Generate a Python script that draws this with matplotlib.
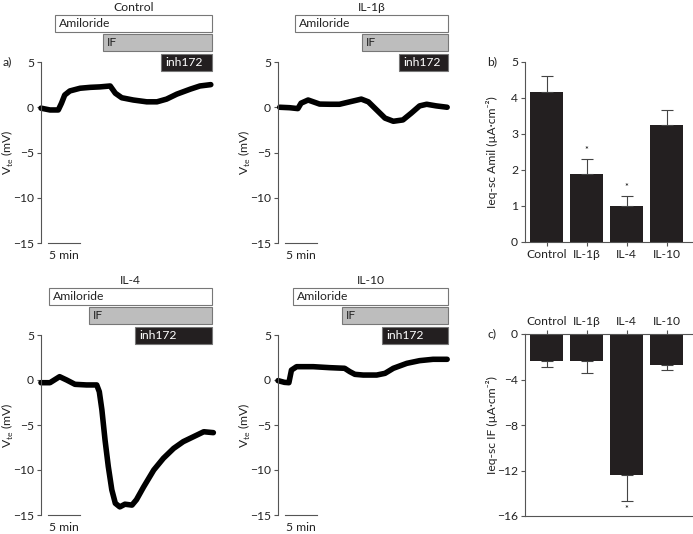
import matplotlib
matplotlib.use('Agg')
import matplotlib.pyplot as plt
from matplotlib.patches import Rectangle

plt.rcParams['font.family'] = ['Lato', 'DejaVu Sans']
plt.rcParams['font.size'] = 8.7
plt.rcParams['axes.edgecolor'] = '#555555'
plt.rcParams['axes.linewidth'] = 0.8
plt.rcParams['xtick.color'] = '#555555'
plt.rcParams['ytick.color'] = '#555555'
plt.rcParams['xtick.labelcolor'] = '#222222'
plt.rcParams['ytick.labelcolor'] = '#222222'
plt.rcParams['xtick.major.size'] = 3
plt.rcParams['ytick.major.size'] = 3
plt.rcParams['xtick.major.pad'] = 2
plt.rcParams['ytick.major.pad'] = 2

# Vte traces (time in min, voltage in mV)
ctrl_t = [0, 1.4, 2.7, 3.2, 3.7, 4.5, 6.1, 7.7, 9.2, 10.8, 11.6, 12.6, 14.4, 16.5,
          18.1, 19.6, 21.2, 23.3, 24.8, 26.5]
ctrl_v = [-0.1, -0.3, -0.3, 0.45, 1.35, 1.8, 2.1, 2.2, 2.25, 2.35, 1.55, 1.05, 0.8, 0.6,
          0.6, 0.9, 1.45, 2.0, 2.35, 2.5]

il1b_t = [0.26, 1.8, 3.1, 3.6, 4.7, 5.5, 6.5, 8.1, 9.6, 11.2, 13.0, 14.1, 15.4, 16.7,
          18.0, 19.5, 20.8, 22.1, 23.2, 24.7, 26.4]
il1b_v = [0, -0.05, -0.15, 0.45, 0.8, 0.6, 0.35, 0.33, 0.33, 0.6, 0.9, 0.6, -0.3, -1.2,
          -1.55, -1.4, -0.65, 0.15, 0.33, 0.15, 0]

il4_t = [0, 1.4, 2.9, 4.0, 5.3, 7.1, 8.7, 9.1, 9.5, 10.0, 10.5, 11.05, 11.6, 12.3, 13.1,
         14.2, 14.9, 16.0, 17.6, 19.1, 20.7, 22.2, 23.8, 25.4, 26.9]
il4_v = [-0.3, -0.3, 0.37, 0, -0.48, -0.55, -0.55, -1.3, -3.3, -6.7, -9.6, -12.2, -13.7,
         -14.1, -13.8, -13.9, -13.3, -11.9, -10.0, -8.7, -7.6, -6.85, -6.3, -5.75, -5.85]

il10_t = [0, 1.0, 1.7, 2.1, 2.9, 5.5, 8.1, 10.4, 11.2, 12.0, 13.3, 15.4, 16.7, 18.0,
          20.1, 22.1, 24.2, 26.4]
il10_v = [-0.07, -0.26, -0.3, 1.1, 1.48, 1.48, 1.37, 1.3, 0.93, 0.63, 0.55, 0.55, 0.74,
          1.3, 1.85, 2.15, 2.3, 2.3]

# drug addition times (min) and end of recording
drug_names = ['Amiloride', 'IF', 'inh172']
ctrl_on = [2.2, 9.7, 18.75]
il1b_on = [2.66, 13.1, 18.9]
il4_on = [1.25, 7.5, 14.7]
il10_on = [2.3, 10.0, 16.25]
ctrl_end, il1b_end, il4_end, il10_end = 26.7, 26.6, 26.7, 26.6

# summary bars
groups = ['Control', 'IL-1β', 'IL-4', 'IL-10']
amil_mean = [4.16, 1.88, 0.99, 3.26]
amil_sem = [0.44, 0.43, 0.30, 0.40]
amil_sig = [False, True, True, False]
if_mean = [-2.41, -2.41, -12.41, -2.76]
if_sem = [0.53, 1.03, 2.24, 0.44]
if_sig = [False, False, True, False]

W, H = 693, 534
fig = plt.figure(figsize=(W / 100, H / 100), dpi=100)


def rect(left, top, right, bottom):
    return [left / W, 1 - bottom / H, (right - left) / W, (bottom - top) / H]


box_y = [(8.3, 10.2), (6.2, 8.1), (4.0, 5.9)]
box_face = ['white', '#bdbdbd', '#231f20']
box_text = ['#222222', '#222222', 'white']


def trace_panel(r, title, t, v, on, end):
    ax = fig.add_axes(r)
    ax.plot(t, v, color='black', lw=4, solid_joinstyle='round',
            solid_capstyle='round', clip_on=False)
    ax.set_xlim(0, 27)
    ax.set_ylim(-15, 5)
    ax.set_yticks([5, 0, -5, -10, -15])
    ax.set_xticks([])
    for s in ['top', 'right', 'bottom']:
        ax.spines[s].set_visible(False)
    ax.set_ylabel('V$_{\\mathregular{te}}$ (mV)', color='#222222')
    ax.yaxis.set_label_coords(-0.145, 0.5)
    for i, name in enumerate(drug_names):
        y0, y1 = box_y[i]
        ax.add_patch(Rectangle((on[i], y0), end - on[i], y1 - y0, facecolor=box_face[i],
                               edgecolor='#777777', lw=0.8, clip_on=False))
        ax.text(on[i] + 0.6, (y0 + y1) / 2, name, color=box_text[i], va='center',
                ha='left', clip_on=False)
    ax.text((on[0] + end) / 2, 11.0, title, ha='center', va='center', color='#222222')
    # 5 min scale bar
    ax.plot([1.1, 6.1], [-15, -15], color='#555555', lw=0.8, clip_on=False)
    ax.text(3.6, -16.4, '5 min', ha='center', va='center', color='#222222')
    return ax


trace_panel(rect(41, 62, 214, 243), 'Control', ctrl_t, ctrl_v, ctrl_on, ctrl_end)
trace_panel(rect(278, 62, 451, 243), 'IL-1β', il1b_t, il1b_v, il1b_on, il1b_end)
trace_panel(rect(41, 335, 214, 515), 'IL-4', il4_t, il4_v, il4_on, il4_end)
trace_panel(rect(278, 335, 451, 515), 'IL-10', il10_t, il10_v, il10_on, il10_end)

x = range(len(groups))
bar_c = '#231f20'

# b) amiloride-sensitive current
axb = fig.add_axes(rect(525, 62, 693, 242))
axb.bar(x, amil_mean, width=0.82, color=bar_c,
        yerr=[[0] * 4, amil_sem], capsize=4.5,
        error_kw=dict(ecolor='#444444', elinewidth=0.8, capthick=0.8))
for i in x:
    if amil_sig[i]:
        axb.text(i, amil_mean[i] + amil_sem[i] + 0.22, '*', ha='center', va='center',
                 fontsize=6.5)
axb.set_xlim(-0.54, 3.66)
axb.set_ylim(0, 5)
axb.set_yticks(range(6))
axb.set_xticks(list(x))
axb.set_xticklabels(groups)
axb.spines['top'].set_visible(False)
axb.spines['right'].set_visible(False)
axb.set_ylabel('Ieq-sc Amil (µA·cm⁻²)', color='#222222')
axb.yaxis.set_label_coords(-0.16, 0.5)

# c) IF-stimulated current
axc = fig.add_axes(rect(525, 334, 693, 516))
axc.bar(x, if_mean, width=0.82, color=bar_c,
        yerr=[if_sem, [0] * 4], capsize=4.5,
        error_kw=dict(ecolor='#444444', elinewidth=0.8, capthick=0.8))
for i in x:
    if if_sig[i]:
        axc.text(i, if_mean[i] - if_sem[i] - 0.75, '*', ha='center', va='center',
                 fontsize=6.5)
axc.set_xlim(-0.54, 3.66)
axc.set_ylim(-16, 0)
axc.set_yticks([0, -4, -8, -12, -16])
axc.set_xticks(list(x))
axc.set_xticklabels(groups)
axc.xaxis.set_ticks_position('top')
axc.spines['right'].set_visible(False)
axc.set_ylabel('Ieq-sc IF (µA·cm⁻²)', color='#222222')
axc.yaxis.set_label_coords(-0.16, 0.5)

fig.text(3 / W, 1 - 62 / H, 'a)', va='center', color='#222222')
fig.text(487 / W, 1 - 62 / H, 'b)', va='center', color='#222222')
fig.text(487 / W, 1 - 334 / H, 'c)', va='center', color='#222222')

fig.savefig('out.png', dpi=100)
